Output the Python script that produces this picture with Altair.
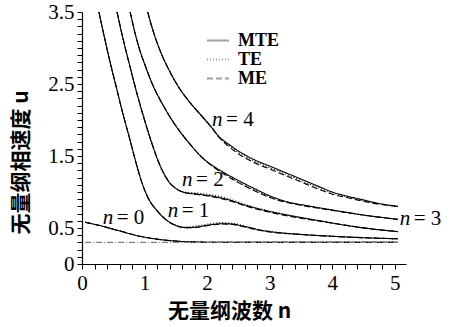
import altair as alt
import pandas as pd

# Dimensionless wave number (x) and phase velocity (u) for each mode n,
# computed with the MTE, TE and ME models.
x_n0 = [0.05, 0.3, 0.6, 0.9, 1.2, 1.5, 1.8, 2.2, 3.0, 4.0, 5.05]
mte_n0 = [0.58, 0.53, 0.46, 0.39, 0.345, 0.318, 0.306, 0.301, 0.300, 0.300, 0.300]
te_n0 = [0.58, 0.53, 0.46, 0.39, 0.345, 0.318, 0.306, 0.301, 0.300, 0.300, 0.300]
me_n0 = [0.58, 0.53, 0.46, 0.39, 0.345, 0.318, 0.306, 0.301, 0.300, 0.300, 0.300]

x_n1 = [0.27, 0.35, 0.45, 0.55, 0.65, 0.75, 0.85, 0.95, 1.05, 1.2, 1.35, 1.5, 1.64,
        1.8, 1.95, 2.1, 2.25, 2.4, 2.55, 2.7, 2.85, 3.0, 3.5, 4.0, 4.5, 5.05]
mte_n1 = [3.5, 3.18, 2.8, 2.45, 2.1, 1.78, 1.45, 1.15, 0.93, 0.74, 0.61, 0.535, 0.505,
          0.51, 0.53, 0.55, 0.56, 0.555, 0.53, 0.50, 0.47, 0.45, 0.41, 0.385, 0.365, 0.35]
te_n1 = [3.5, 3.18, 2.8, 2.45, 2.1, 1.78, 1.45, 1.15, 0.93, 0.74, 0.61, 0.54, 0.515,
         0.525, 0.545, 0.565, 0.575, 0.565, 0.54, 0.505, 0.475, 0.455, 0.41, 0.385, 0.365, 0.35]
me_n1 = [3.5, 3.18, 2.8, 2.45, 2.1, 1.78, 1.45, 1.15, 0.93, 0.74, 0.61, 0.535, 0.505,
         0.505, 0.525, 0.545, 0.555, 0.55, 0.525, 0.495, 0.465, 0.445, 0.41, 0.385, 0.365, 0.35]

x_n2 = [0.56, 0.65, 0.75, 0.9, 1.0, 1.1, 1.2, 1.3, 1.4, 1.5, 1.65, 1.85, 2.1, 2.35,
        2.6, 2.85, 3.05, 3.4, 3.8, 4.2, 4.6, 5.05]
mte_n2 = [3.5, 3.15, 2.8, 2.3, 2.0, 1.72, 1.47, 1.27, 1.13, 1.05, 0.99, 0.97, 0.94, 0.89,
          0.82, 0.76, 0.72, 0.66, 0.60, 0.54, 0.49, 0.45]
te_n2 = [3.5, 3.15, 2.8, 2.3, 2.0, 1.72, 1.47, 1.27, 1.13, 1.05, 1.0, 0.985, 0.955, 0.905,
         0.83, 0.765, 0.725, 0.665, 0.60, 0.54, 0.49, 0.45]
me_n2 = [3.5, 3.15, 2.8, 2.3, 2.0, 1.72, 1.47, 1.27, 1.13, 1.05, 0.99, 0.965, 0.93, 0.88,
         0.81, 0.75, 0.71, 0.65, 0.595, 0.54, 0.49, 0.45]

x_n3 = [0.77, 0.85, 0.92, 1.0, 1.14, 1.3, 1.46, 1.6, 1.75, 1.93, 2.1, 2.25, 2.5, 2.75,
        3.08, 3.3, 3.6, 4.0, 4.5, 5.05]
mte_n3 = [3.5, 3.2, 2.98, 2.78, 2.47, 2.2, 1.97, 1.8, 1.64, 1.47, 1.36, 1.28, 1.16, 1.05,
          0.92, 0.86, 0.81, 0.75, 0.68, 0.62]
te_n3 = [3.5, 3.2, 2.98, 2.78, 2.47, 2.2, 1.97, 1.8, 1.64, 1.47, 1.35, 1.27, 1.14, 1.03,
         0.91, 0.855, 0.805, 0.75, 0.68, 0.62]
me_n3 = [3.5, 3.2, 2.98, 2.78, 2.47, 2.2, 1.97, 1.8, 1.64, 1.47, 1.35, 1.26, 1.13, 1.02,
         0.90, 0.85, 0.80, 0.745, 0.68, 0.62]

x_n4 = [1.05, 1.15, 1.25, 1.4, 1.55, 1.7, 1.9, 2.05, 2.2, 2.35, 2.5, 2.75, 3.0, 3.25,
        3.5, 3.75, 4.0, 4.25, 4.5, 4.75, 5.05]
mte_n4 = [3.5, 3.2, 2.96, 2.68, 2.45, 2.27, 2.07, 1.92, 1.76, 1.66, 1.57, 1.45, 1.36, 1.27,
          1.18, 1.09, 1.00, 0.94, 0.89, 0.84, 0.80]
te_n4 = [3.5, 3.2, 2.96, 2.68, 2.45, 2.27, 2.07, 1.92, 1.76, 1.65, 1.55, 1.43, 1.34, 1.25,
         1.16, 1.07, 0.99, 0.93, 0.88, 0.84, 0.80]
me_n4 = [3.5, 3.2, 2.96, 2.68, 2.45, 2.27, 2.07, 1.92, 1.75, 1.63, 1.53, 1.41, 1.32, 1.23,
         1.14, 1.05, 0.97, 0.92, 0.87, 0.83, 0.80]

# cladding limit drawn as a flat line
limit_x = [0.05, 5.05]
limit_u = [0.30, 0.30]

models = ["MTE", "TE", "ME"]
model_dash = [[1, 0], [1, 2], [6, 3]]

# curve annotations "n = k"
label_n = [0, 1, 2, 3, 4]
label_x = [0.33, 1.37, 1.6, 5.08, 2.08]
label_u = [0.64, 0.74, 1.17, 0.62, 2.0]

# axis ticks: minor steps, labelled values
x_ticks = [round(i * 0.2, 1) for i in range(26)]
x_labels = [0, 1, 2, 3, 4, 5]
y_ticks = [round(i * 0.1, 1) for i in range(36)]
y_labels = [0, 0.5, 1.5, 2.5, 3.5]

curves = {
    0: (x_n0, mte_n0, te_n0, me_n0),
    1: (x_n1, mte_n1, te_n1, me_n1),
    2: (x_n2, mte_n2, te_n2, me_n2),
    3: (x_n3, mte_n3, te_n3, me_n3),
    4: (x_n4, mte_n4, te_n4, me_n4),
}

rows = []
for n, (xs, mte, te, me) in curves.items():
    for model, us in zip(models, (mte, te, me)):
        for xv, uv in zip(xs, us):
            rows.append({"x": xv, "u": uv, "n": n, "model": model})
df = pd.DataFrame(rows)

limit_df = pd.DataFrame({"x": limit_x, "u": limit_u})
label_df = pd.DataFrame({
    "x": label_x,
    "u": label_u,
    "eq": [f"= {k}" for k in label_n],
})

SERIF = "'Liberation Serif', 'Times New Roman', serif"
CJK = "'Noto Sans CJK SC', sans-serif"


def label_expr(values):
    parts = [f"abs(datum.value - {v}) < 0.001 ? '{v:g}' : " for v in values]
    return "".join(parts) + "''"


x_scale = alt.Scale(domain=[0, 5.18], nice=False, zero=False)
y_scale = alt.Scale(domain=[0, 3.5], nice=False)

x_axis = alt.Axis(
    values=x_ticks, labelExpr=label_expr(x_labels), grid=False,
    tickSize=5, tickColor="black", domainColor="black", domainWidth=1.2,
    labelFont=SERIF, labelFontSize=21, labelColor="black", labelPadding=3,
    labelOverlap=False, labelFlush=False, labelBound=False,
    title="无量纲波数 n", titleFont=CJK, titleFontSize=21, titleFontWeight="bold",
    titleColor="black", titleX=147, titleY=47, titleBaseline="middle",
    titleAnchor="start", titleAlign="center",
)
y_axis = alt.Axis(
    values=y_ticks, labelExpr=label_expr(y_labels), grid=False,
    tickSize=5, tickColor="black", domainColor="black", domainWidth=1.2,
    labelFont=SERIF, labelFontSize=21, labelColor="black", labelPadding=3,
    labelOverlap=False, labelFlush=False, labelBound=False, labelBaseline="middle",
    title="无量纲相速度 u", titleFont=CJK, titleFontSize=21, titleFontWeight="bold",
    titleColor="black", titleX=-61, titleY=150, titleAngle=-90,
    titleBaseline="middle", titleAlign="center", titleAnchor="start",
)

X = alt.X("x:Q", scale=x_scale, axis=x_axis)
Y = alt.Y("u:Q", scale=y_scale, axis=y_axis)

lines = alt.Chart(df).mark_line(
    color="black", strokeWidth=1.1, interpolate="monotone", clip=True
).encode(
    x=X,
    y=Y,
    detail="n:N",
    strokeDash=alt.StrokeDash(
        "model:N",
        scale=alt.Scale(domain=models, range=model_dash),
        sort=models,
        legend=alt.Legend(
            title=None, orient="none", legendX=124, legendY=21,
            symbolType="stroke", symbolSize=484, symbolStrokeWidth=2,
            symbolStrokeColor="#a0a0a0", labelFont=SERIF, labelFontSize=18,
            labelFontWeight="bold", labelColor="black", labelOffset=8,
            clipHeight=15, rowPadding=0,
        ),
    ),
)

limit = alt.Chart(limit_df).mark_line(
    color="#808080", strokeWidth=1.2, strokeDash=[6, 2, 1, 2]
).encode(x=X, y=Y)

label_n_text = alt.Chart(label_df).mark_text(
    text="n", font=SERIF, fontSize=21, fontStyle="italic",
    align="left", baseline="middle", color="black",
).encode(x=X, y=Y)

label_eq_text = alt.Chart(label_df).mark_text(
    font=SERIF, fontSize=21, align="left", baseline="middle", color="black", dx=14,
).encode(x=X, y=Y, text="eq:N")

chart = alt.layer(lines, limit, label_n_text, label_eq_text).properties(
    width=324, height=252,
    autosize=alt.AutoSizeParams(type="none"),
    padding={"left": 82, "top": 12, "right": 45, "bottom": 63},
    background="white",
).configure_view(stroke=None)

chart.save("out.html", embed_options={"renderer": "svg", "actions": False})
